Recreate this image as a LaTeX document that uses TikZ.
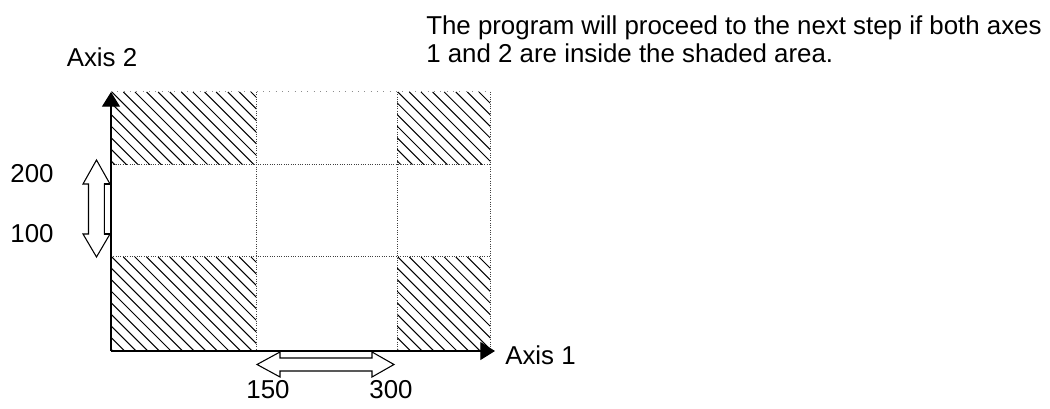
\documentclass[tikz,border=0pt]{standalone}
\usepackage{fontspec}
\setmainfont{Liberation Sans}
\usetikzlibrary{arrows.meta}

\begin{document}
\begin{tikzpicture}[
    x=0.75pt, y=-0.75pt,
    lbl/.style={inner sep=0pt, font=\fontsize{19.4}{20.8}\selectfont},
    axis/.style={-{Triangle[length=11pt, width=13.5pt]}, line width=0.9pt},
    grid/.style={densely dotted, line width=0.75pt, black!75},
    hatch/.style={line width=0.75pt},
    hollow/.style={draw, fill=white, line width=0.8pt},
]
  \useasboundingbox (0,0) rectangle (1050,409);

  % Shaded areas
  \foreach \xa/\ya/\xb/\yb in {111/92/256/165, 397/92/490/165,
                               111/257/256/351, 397/257/490/351} {
    \begin{scope}
      \clip (\xa,\ya) rectangle (\xb,\yb);
      \foreach \k in {0,11.6,...,400}
        \draw[hatch] (\xa-150+\k,\ya) -- ++(150,150);
    \end{scope}
  }

  % Grid lines
  \draw[grid] (111,165) -- (490,165);
  \draw[grid] (111,257) -- (490,257);
  \draw[grid] (256,92) -- (256,351);
  \draw[grid] (397,92) -- (397,351);
  \draw[grid] (490,92) -- (490,351);
  \draw[loosely dotted, line width=0.75pt, black!45] (111,92) -- (490,92);

  % Axes
  \coordinate (origin) at (111,351);
  \coordinate (xend) at (495,351);
  \coordinate (yend) at (111,92);
  \draw[axis] (origin) -- (xend);
  \draw[axis] (origin) -- (yend);

  % Range arrows
  \draw[hollow] (96.5,160) -- (110,184) -- (104.5,184) -- (104.5,234)
    -- (110,234) -- (96.5,257) -- (83,234) -- (88.5,234) -- (88.5,184)
    -- (83,184) -- cycle;
  \draw[hollow] (104.5,184) rectangle (111,234);
  \draw[hollow] (257,364.5) -- (280,352) -- (280,358) -- (372,358)
    -- (372,352) -- (394,364.5) -- (372,377) -- (372,371) -- (280,371)
    -- (280,377) -- cycle;

  % Labels
  \node[lbl] (ax2) at (102,57) {Axis 2};
  \node[lbl, anchor=west] (ax1) at (505,355) {Axis 1};
  \node[lbl] (v200) at (32,174) {200};
  \node[lbl] (v100) at (32,234) {100};
  \node[lbl] (v150) at (268,390) {150};
  \node[lbl] (v300) at (391,390) {300};
  \node[lbl, anchor=base west] (note1) at (426,35)
    {The program will proceed to the next step if both axes};
  \node[lbl, anchor=base west] (note2) at (426,63)
    {1 and 2 are inside the shaded area.};

\end{tikzpicture}
\end{document}
